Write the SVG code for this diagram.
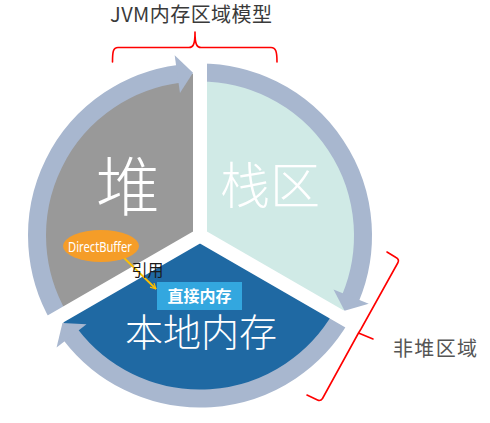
<svg xmlns="http://www.w3.org/2000/svg" width="490" height="423" viewBox="0 0 490 423">
<style>
.cjk{font-family:'Noto Sans CJK SC','Noto Sans',sans-serif}
.big{fill:#ffffff;font-weight:300;text-anchor:middle}
.ring{fill:none;stroke:#A8B7CF;stroke-width:18}
.head{fill:#A8B7CF}
.brace{fill:none;stroke:#FF0000;stroke-width:1.6;stroke-linejoin:round;stroke-linecap:round}
</style>
<defs>
<marker id="ah" viewBox="0 0 10 10" refX="9" refY="5" markerWidth="7" markerHeight="7" orient="auto" markerUnits="userSpaceOnUse">
<path d="M1,1 L9,5 L1,9" fill="none" stroke="#FFC000" stroke-width="1.6"/>
</marker>
</defs>
<rect width="490" height="423" fill="#ffffff"/>

<g id="heap">
<path d="M200,235.5 L59.7,316.5 A162,162 0 0 1 200,73.5 Z" fill="#999999"/>
</g>
<g id="stack">
<path d="M200,235.5 L200,73.5 A162,162 0 0 1 340.3,316.5 Z" fill="#D0EAE6"/>
</g>
<g id="native">
<path d="M200,235.5 L340.3,316.5 A162,162 0 0 1 59.7,316.5 Z" fill="#1F69A3"/>
</g>

<g id="connectors">
<path class="ring" d="M58.84,317 A163,163 0 0 1 178.73,73.9"/>
<polygon class="head" points="193,72.65 174.67,55.27 179.96,92.9"/>
<path class="ring" d="M200,72.5 A163,163 0 0 1 350.59,297.88"/>
<polygon class="head" points="344.53,310.86 368.75,303.68 333.51,289.44"/>
<path class="ring" d="M341.16,317 A163,163 0 0 1 70.68,334.73"/>
<polygon class="head" points="62.45,322.97 56.58,347.55 86.53,324.15"/>
<path d="M200,235.5 L200,57.5 M200,235.5 L354.15,324.5 M200,235.5 L45.85,324.5" stroke="#ffffff" stroke-width="14" fill="none"/>
<line x1="120" y1="254" x2="156" y2="289" stroke="#FFC000" stroke-width="1.8" marker-end="url(#ah)"/>
</g>

<g id="heap-label"><text class="cjk big" x="128" y="210" font-size="64">堆</text></g>
<g id="stack-label"><text class="cjk big" x="270" y="204" font-size="50">栈区</text></g>
<g id="native-label"><text class="cjk big" x="201" y="345.5" font-size="38">本地内存</text></g>

<g id="direct-buffer">
<ellipse cx="101" cy="246" rx="38" ry="16" fill="#F59D28"/>
<text x="100" y="251.5" font-family="'Noto Sans','Open Sans',sans-serif" font-size="13.5" fill="#ffffff" text-anchor="middle" textLength="64" lengthAdjust="spacingAndGlyphs">DirectBuffer</text>
</g>

<g id="direct-memory">
<rect x="157" y="282" width="85" height="28" fill="#33A7DF"/>
<text class="cjk" x="199.5" y="302" font-size="16" font-weight="bold" fill="#ffffff" text-anchor="middle">直接内存</text>
</g>

<g id="ref-label"><text class="cjk" x="147.5" y="276" font-size="16" fill="#1a1a1a" text-anchor="middle">引用</text></g>

<g id="title">
<text class="cjk" x="110" y="21.5" font-size="20" fill="#3a3a3a" textLength="162" lengthAdjust="spacing">JVM内存区域模型</text>
<path class="brace" d="M112.5,62 C112.5,52 113,47.5 118,47.5 L189,47.5 C193,47.5 195,45 195,32 C195,45 197,47.5 201,47.5 L271,47.5 C276,47.5 277,52 277,62"/>
</g>

<g id="non-heap">
<path class="brace" d="M387,252 L396,257.5 Q399.5,259.5 398,262.5 L361,329 L358.5,333 L373,339 M358.5,333 L322.5,398.5 Q320.5,401.5 317.5,400 L307,395"/>
<text class="cjk" x="393" y="355.5" font-size="20" fill="#555555" textLength="84" lengthAdjust="spacing">非堆区域</text>
</g>
</svg>
